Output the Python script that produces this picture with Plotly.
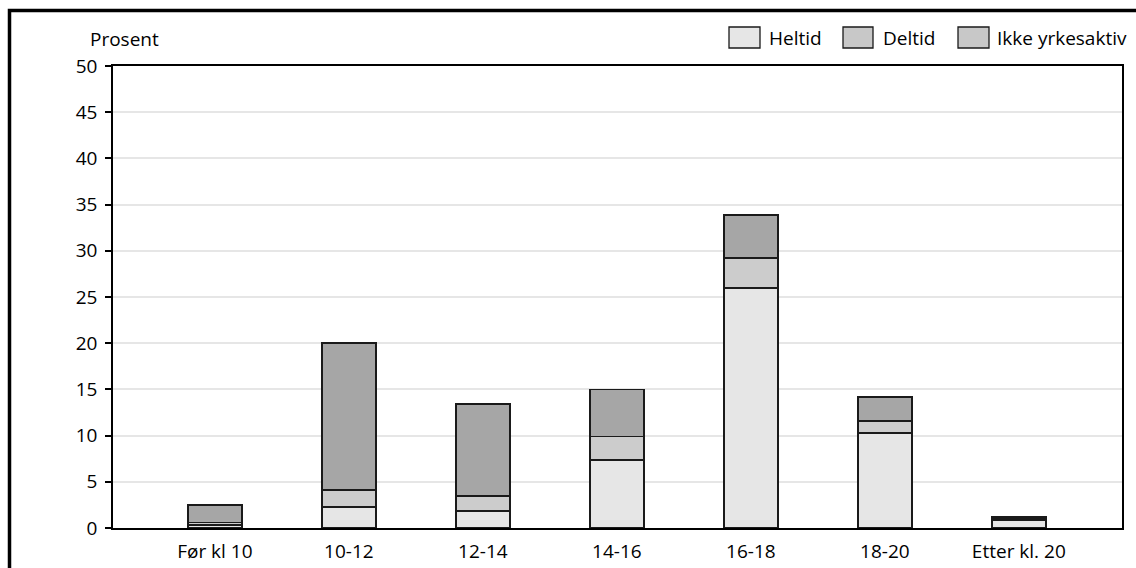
import plotly.graph_objects as go

# Tidspunkt (kategorier) og andeler i prosent for hver gruppe
categories = ["Før kl 10", "10-12", "12-14", "14-16", "16-18", "18-20", "Etter kl. 20"]
heltid = [0.3, 2.3, 1.8, 7.4, 26.0, 10.3, 0.9]
deltid = [0.3, 1.8, 1.7, 2.5, 3.2, 1.3, 0.15]
ikke_yrkesaktiv = [1.9, 15.9, 9.9, 5.1, 4.7, 2.6, 0.2]

series_names = ["Heltid", "Deltid", "Ikke yrkesaktiv"]
bar_colors = ["#e6e6e6", "#cccccc", "#a6a6a6"]
legend_colors = ["#e6e6e6", "#c8c8c8", "#c8c8c8"]
y_ticks = [0, 5, 10, 15, 20, 25, 30, 35, 40, 45, 50]

W, H = 1136, 568
ML, MR, MT, MB = 113, 14, 66, 40
PW, PH = W - ML - MR, H - MT - MB

FONT = "Open Sans, Noto Sans, DejaVu Sans, sans-serif"
FS = 19


def px_x(px):
    return (px - ML) / PW


def px_y(py):
    return (H - MB - py) / PH


fig = go.Figure()
for name, vals, col in zip(series_names, [heltid, deltid, ikke_yrkesaktiv], bar_colors):
    fig.add_trace(go.Bar(
        x=categories, y=vals, name=name, showlegend=False,
        marker=dict(color=col, line=dict(color="#1a1a1a", width=1.8)),
        width=0.4,
    ))

shapes = []
annotations = []

# Ramme rundt hele figuren
shapes.append(dict(type="rect", xref="paper", yref="paper",
                   x0=px_x(9.5), x1=px_x(1200), y0=px_y(10.5), y1=px_y(700),
                   line=dict(color="black", width=3.5), fillcolor="rgba(0,0,0,0)",
                   layer="above"))

# Tegnforklaring øverst til høyre
legend_boxes = [(729, 760, 767), (843, 873, 881), (958, 989, 995)]
for (bx0, bx1, tx), name, col in zip(legend_boxes, series_names, legend_colors):
    shapes.append(dict(type="rect", xref="paper", yref="paper",
                       x0=px_x(bx0), x1=px_x(bx1), y0=px_y(48), y1=px_y(27),
                       line=dict(color="#1a1a1a", width=1.3), fillcolor=col))
    annotations.append(dict(xref="paper", yref="paper", x=px_x(tx), y=px_y(38),
                            text=name, showarrow=False, xanchor="left", yanchor="middle",
                            font=dict(family=FONT, size=FS, color="black")))

annotations.append(dict(xref="paper", yref="paper", x=px_x(88), y=px_y(39),
                        text="Prosent", showarrow=False, xanchor="left", yanchor="middle",
                        font=dict(family=FONT, size=FS, color="black")))

fig.update_layout(
    width=W, height=H,
    margin=dict(l=ML, r=MR, t=MT, b=MB),
    barmode="stack",
    paper_bgcolor="white", plot_bgcolor="white",
    font=dict(family=FONT, size=FS, color="black"),
    shapes=shapes, annotations=annotations,
    showlegend=False,
)
fig.update_xaxes(
    type="category", range=[-0.76, 6.77], showgrid=False, showline=True,
    linecolor="black", linewidth=1.5, mirror=True, ticks="", automargin=False,
    tickfont=dict(family=FONT, size=FS), ticklabelstandoff=5,
)
fig.update_yaxes(
    range=[0, 50], tickvals=y_ticks, showgrid=True, gridcolor="#e6e6e6", gridwidth=1.5,
    showline=True, linecolor="black", linewidth=1.5, mirror=True, automargin=False,
    ticks="outside", ticklen=6, tickcolor="black", tickwidth=1.5,
    tickfont=dict(family=FONT, size=FS), zeroline=False, ticklabelstandoff=4,
)

fig.write_html("out.html")
